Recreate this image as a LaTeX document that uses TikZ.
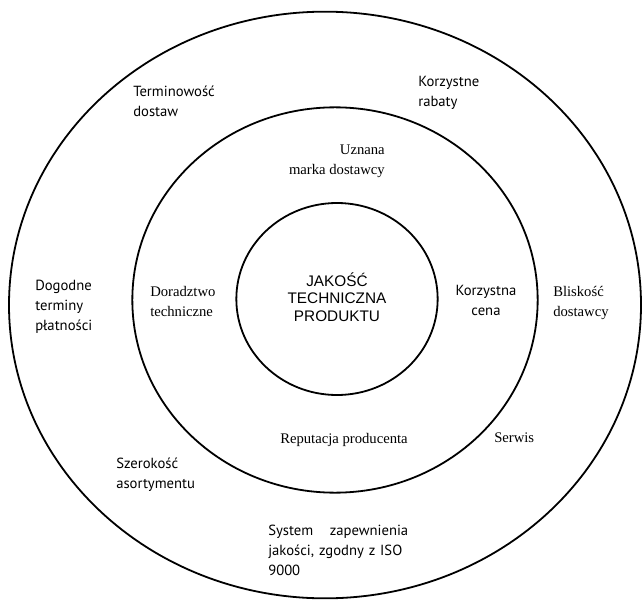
\documentclass[tikz,border=0pt]{standalone}
\usepackage{fontspec}
\setmainfont{Liberation Serif}
\newfontfamily\gillf{PT Sans}
\newfontfamily\arialf{Liberation Sans}
\usetikzlibrary{shapes.geometric}
\begin{document}
\begin{tikzpicture}[x=0.75pt,y=-0.75pt,
  ring/.style={draw, ellipse, line width=1.35pt, inner sep=0pt},
  lbl/.style={inner sep=0pt, anchor=north west, align=left, font=\fontsize{11}{15}\selectfont},
  glbl/.style={lbl, font=\gillf\fontsize{11}{15}\selectfont},
  clbl/.style={inner sep=0pt, align=center, font=\arialf\fontsize{11.5}{13.3}\selectfont}]
\useasboundingbox (0,0) rectangle (644,600);
\fill[white] (0,0) rectangle (644,600);
% rings
\node[ring, minimum width=474pt, minimum height=440pt] (outer) at (325,305) {};
\node[ring, minimum width=304pt, minimum height=289pt] (middle) at (335,300) {};
\node[ring, minimum width=151pt, minimum height=144pt] (inner) at (337,299) {};
% centre
\node[clbl] (core) at (337,297) {JAKOŚĆ\\TECHNICZNA\\PRODUKTU};
% middle ring labels
\node[lbl, anchor=north east, align=right] (marka) at (385,145) {Uznana\\marka dostawcy};
\node[lbl] (doradztwo) at (150,286) {Doradztwo\\techniczne};
\node[glbl, anchor=north, align=center] (cena) at (486,285) {Korzystna\\cena};
\node[lbl] (reputacja) at (280,433) {Reputacja producenta};
% outer ring labels
\node[glbl] (terminowosc) at (133,86) {Terminowość\\dostaw};
\node[glbl] (rabaty) at (418,76) {Korzystne\\rabaty};
\node[glbl] (platnosci) at (35,280) {Dogodne\\terminy\\płatności};
\node[lbl] (bliskosc) at (553,286) {Bliskość\\dostawcy};
\node[lbl] (serwis) at (494,433) {Serwis};
\node[glbl] (asortyment) at (116,458) {Szerokość\\asortymentu};
\node[glbl, text width=105pt] (iso) at (268,525) {System\hfill zapewnienia\\jakości, zgodny z ISO\\9000};
\end{tikzpicture}
\end{document}
